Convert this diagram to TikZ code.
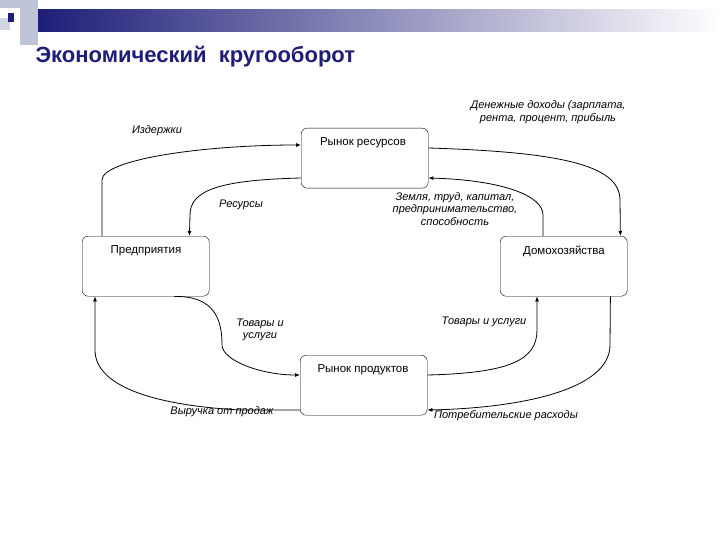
\documentclass[tikz,border=0pt]{standalone}
\usepackage{fontspec}
\setmainfont{Liberation Sans}
\usetikzlibrary{arrows.meta}
\definecolor{navy}{RGB}{30,30,120}
\definecolor{pale}{RGB}{190,195,215}
\begin{document}
\begin{tikzpicture}[x=1pt,y=-1pt,
  box/.style={draw,rounded corners=6pt,minimum width=127pt,minimum height=60pt,anchor=north west,inner sep=0},
  btxt/.style={font=\fontsize{11.5}{13}\selectfont},
  lab/.style={font=\fontsize{11}{12.5}\selectfont\itshape,align=center},
  flow/.style={thick,-{Latex[length=5pt,width=4pt]}}]
\useasboundingbox (0,0) rectangle (720,540);
\fill[white] (0,0) rectangle (720,540);
% header decoration
\fill[pale] (0,0) rectangle (20,8);
\fill[pale] (20,0) rectangle (38,45);
\fill[pale!70] (0,18) rectangle (10,30);
\shade[left color=navy,right color=white] (38,10) rectangle (720,32);
\fill[navy] (8,13) rectangle (14,22);
\node[anchor=west,text=navy,font=\fontsize{22}{24}\selectfont\bfseries] (title) at (32,57) {Экономический\ \ кругооборот};
% boxes
\node[box] (rr) at (301,128) {};
\node[box] (pr) at (82,236) {};
\node[box] (dh) at (500,236) {};
\node[box] (rp) at (300,355) {};
\node[btxt] (trr) at (363,143) {Рынок ресурсов};
\node[btxt] (tpr) at (146,251) {Предприятия};
\node[btxt] (tdh) at (564,251) {Домохозяйства};
\node[btxt] (trp) at (363,370) {Рынок продуктов};
% flows
\draw[flow] ([xshift=20pt]pr.north west) -- ++(0,-56) .. controls (102,160) and (200,145) .. ([yshift=-17pt]rr.north west);
\draw[flow] ([yshift=-20pt]rr.north east) .. controls (560,152) and (620,165) .. (620,200) -- ([xshift=-7pt]dh.north east);
\draw[flow] ([yshift=-50pt]rr.north west) .. controls (220,180) and (190,190) .. (190,215) -- ([xshift=-20pt]pr.north east);
\draw[flow] ([xshift=43pt]dh.north west) -- (543,215) .. controls (543,195) and (500,180) .. ([yshift=-50pt]rr.north east);
\draw[flow] ([xshift=-35pt]pr.south east) .. controls (215,296) and (222,320) .. (222,345) .. controls (222,360) and (260,375) .. ([yshift=-20pt]rp.north west);
\draw[flow] ([yshift=-20pt]rp.north east) .. controls (510,373) and (537,360) .. (537,330) -- ([xshift=37pt]dh.south west);
\draw[flow] ([xshift=-17pt]dh.south east) -- (610,345) .. controls (610,390) and (520,408) .. ([yshift=-55pt]rp.north east);
\draw[flow] ([yshift=-55pt]rp.north west) -- (240,410) .. controls (150,405) and (95,385) .. (95,350) -- ([xshift=13pt]pr.south west);
% labels
\node[lab] (l1) at (157,131) {Издержки};
\node[lab] (l2) at (548,112) {Денежные доходы (зарплата,\\рента, процент, прибыль};
\node[lab] (l3) at (241,205) {Ресурсы};
\node[lab] (l4) at (455,209) {Земля, труд, капитал,\\предпринимательство,\\способность};
\node[lab] (l5) at (260,330) {Товары и\\услуги};
\node[lab] (l6) at (484,322) {Товары и услуги};
\node[lab] (l7) at (222,412) {Выручка от продаж};
\node[lab] (l8) at (506,416) {Потребительские расходы};
\end{tikzpicture}
\end{document}
